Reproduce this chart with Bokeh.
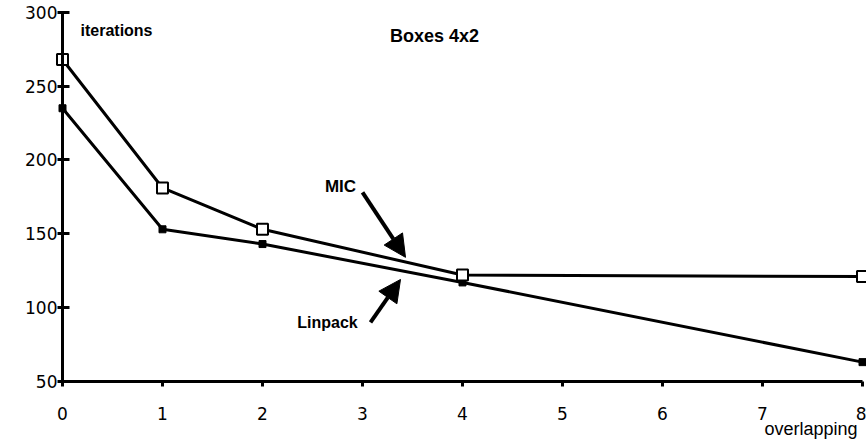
from bokeh.plotting import figure
from bokeh.models import Range1d, Label, Arrow, NormalHead, FixedTicker
from bokeh.embed import file_html
from bokeh.resources import INLINE

# Data
overlap = [0, 1, 2, 4, 8]
mic = [268, 181, 153, 122, 121]
linpack = [235, 153, 143, 117, 63]
x_ticks = [0, 1, 2, 3, 4, 5, 6, 7, 8]
y_ticks = [50, 100, 150, 200, 250, 300]

p = figure(output_backend="svg", toolbar_location=None,
           x_range=Range1d(-0.62, 8.04), y_range=Range1d(7.2, 308),
           frame_width=866, frame_height=444,
           min_border_left=0, min_border_right=0, min_border_top=0, min_border_bottom=0)
p.outline_line_color = None
p.xgrid.visible = False
p.ygrid.visible = False
p.background_fill_color = "white"
p.border_fill_color = "white"

# Axes
for ax in (p.xaxis[0], p.yaxis[0]):
    ax.axis_line_width = 3
    ax.axis_line_color = "black"
    ax.major_tick_line_width = 3
    ax.major_tick_line_color = "black"
    ax.minor_tick_line_color = None
    ax.major_label_text_font = "DejaVu Sans"
    ax.major_label_text_font_size = "17px"
    ax.major_label_text_color = "black"

p.yaxis.ticker = FixedTicker(ticks=y_ticks)
p.yaxis.bounds = (50, 300)
p.yaxis.fixed_location = 0
p.yaxis.major_tick_in = 7
p.yaxis.major_tick_out = 5
p.yaxis.major_label_standoff = 0

p.xaxis.ticker = FixedTicker(ticks=x_ticks)
p.xaxis.bounds = (0, 8)
p.xaxis.fixed_location = 50
p.xaxis.major_tick_in = 0
p.xaxis.major_tick_out = 5
p.xaxis.major_label_standoff = 21

# Series
p.line(overlap, mic, line_color="black", line_width=3)
p.line(overlap, linpack, line_color="black", line_width=3)
p.scatter(overlap, linpack, marker="square", size=7, fill_color="black", line_color="black")
p.scatter(overlap, mic, marker="square", size=11, fill_color="white", line_color="black", line_width=2)

# Texts
def lab(x, y, t, size, bold=True, align="center"):
    p.add_layout(Label(x=x, y=y, text=t, text_font="Liberation Sans",
                       text_font_style="bold" if bold else "normal",
                       text_font_size=size, text_align=align, text_baseline="middle",
                       text_color="black"))

lab(3.72, 284, "Boxes 4x2", "18px")
lab(0.18, 288, "iterations", "16px", align="left")
lab(2.78, 182, "MIC", "17px")
lab(2.65, 90, "Linpack", "16px")
lab(7.95, 17.5, "overlapping", "18px", bold=False, align="right")

# Arrows
p.add_layout(Arrow(x_start=3.0, y_start=178, x_end=3.43, y_end=134, line_width=4, line_color="black",
                   end=NormalHead(size=22, fill_color="black", line_color="black")))
p.add_layout(Arrow(x_start=3.08, y_start=90, x_end=3.38, y_end=119, line_width=4, line_color="black",
                   end=NormalHead(size=22, fill_color="black", line_color="black")))

open("out.html", "w").write(file_html(p, INLINE))
